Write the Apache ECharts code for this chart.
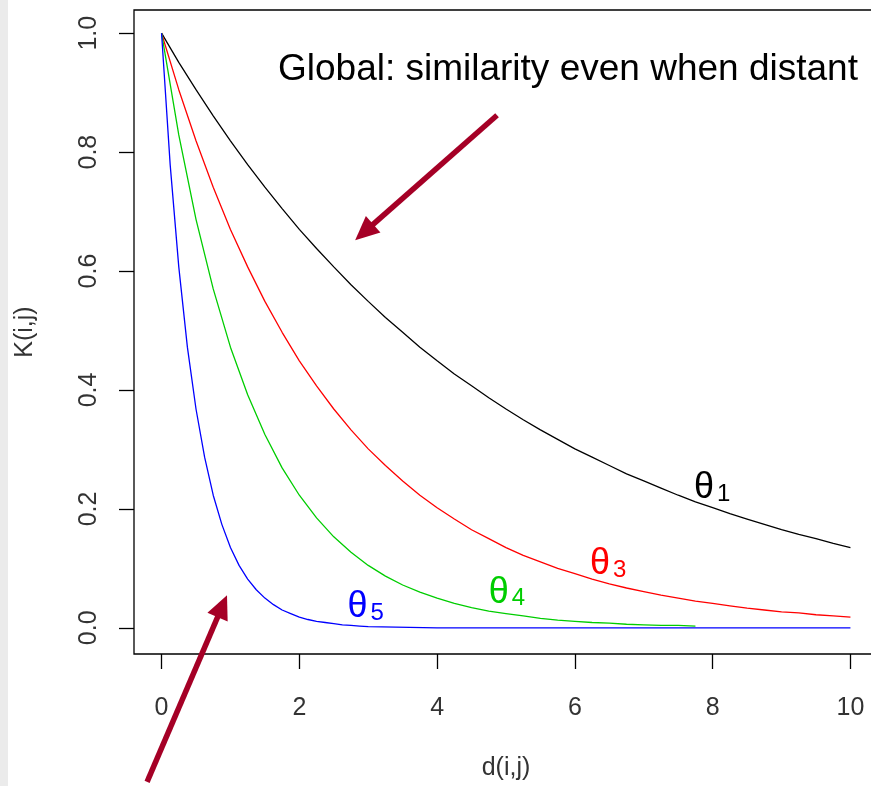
<!DOCTYPE html>
<html>
<head>
<meta charset="utf-8">
<script src="https://cdn.jsdelivr.net/npm/echarts@6/dist/echarts.min.js"></script>
<style>
html,body{margin:0;padding:0;background:#fff;}
#strip{position:absolute;left:0;top:0;width:8px;height:786px;background:#ebebeb;}
#c{position:absolute;left:0;top:0;width:871px;height:786px;}
</style>
</head>
<body>
<div id="strip"></div>
<div id="c"></div>
<script>
// distance values (shared for black, red, green)
const d = [0,0.25,0.5,0.75,1,1.25,1.5,1.75,2,2.25,2.5,2.75,3,3.25,3.5,3.75,4,4.25,4.5,4.75,5,5.25,5.5,5.75,6,6.25,6.5,6.75,7,7.25,7.5,7.75,8,8.25,8.5,8.75,9,9.25,9.5,9.75,10];
const theta1 = [1.000,0.951,0.905,0.861,0.819,0.779,0.741,0.705,0.670,0.638,0.607,0.577,0.549,0.522,0.497,0.472,0.449,0.427,0.407,0.387,0.368,0.350,0.333,0.317,0.301,0.287,0.273,0.259,0.247,0.235,0.223,0.212,0.202,0.192,0.183,0.174,0.165,0.157,0.150,0.142,0.135];
const theta3 = [1.000,0.905,0.819,0.741,0.670,0.607,0.549,0.497,0.449,0.407,0.368,0.333,0.301,0.273,0.247,0.223,0.202,0.183,0.165,0.150,0.135,0.122,0.111,0.100,0.091,0.082,0.074,0.067,0.061,0.055,0.050,0.045,0.041,0.037,0.033,0.030,0.027,0.025,0.022,0.020,0.018];
const theta4 = [1.000,0.829,0.687,0.570,0.472,0.392,0.325,0.269,0.223,0.185,0.153,0.127,0.105,0.087,0.072,0.060,0.050,0.041,0.034,0.028,0.024,0.020,0.016,0.013,0.011,0.009,0.008,0.006,0.005,0.004,0.004,0.003];
// finer distances for the steep blue curve
const dBlue = [0,0.125,0.25,0.375,0.5,0.625,0.75,0.875,1,1.125,1.25,1.375,1.5,1.625,1.75,1.875,2,2.125,2.25,2.375,2.5,2.625,2.75,2.875,3,4,6,8,10];
const theta5 = [1.000,0.779,0.607,0.472,0.368,0.287,0.223,0.174,0.135,0.105,0.082,0.064,0.050,0.039,0.030,0.024,0.018,0.014,0.011,0.009,0.007,0.005,0.004,0.003,0.002,0.000,0.000,0.000,0.000];

const xTicks = [0,2,4,6,8,10];
const yTicks = [0,0.2,0.4,0.6,0.8,1.0];
const yTickLabels = ['0.0','0.2','0.4','0.6','0.8','1.0'];

// annotation positions in data coordinates
const arrowGlobal = [[4.87,0.862],[2.81,0.652]];
const arrowLocal = [[-0.21,-0.259],[0.95,0.055]];
const thetaLabels = [
  {text:'1', x:7.73, y:0.240, color:'#000000'},
  {text:'3', x:6.22, y:0.112, color:'#ff0000'},
  {text:'4', x:4.75, y:0.064, color:'#00cd00'},
  {text:'5', x:2.70, y:0.040, color:'#0000ff'}
];
const globalText = 'Global: similarity even when distant';

const pairs = (xs, ys) => ys.map((v,i)=>[xs[i], v]);

const chart = echarts.init(document.getElementById('c'), null, {renderer:'canvas'});
const font = 'Liberation Sans, Arial, sans-serif';
const lineSeries = (name, xs, ys, color) => ({
  name, type:'line', data: pairs(xs, ys), showSymbol:false, symbol:'none',
  smooth:false,
  lineStyle:{color, width:1.3}, itemStyle:{color}, silent:true, z:3
});

chart.setOption({
  animation:false,
  backgroundColor:'transparent',
  grid:{left:134, top:10, width:744, height:644, outerBoundsMode:'none', containLabel:false,
        show:true, borderColor:'#000', borderWidth:1.3, backgroundColor:'#fff'},
  xAxis:{
    type:'value', min:-0.4, max:10.4,
    name:'d(i,j)', nameLocation:'middle', nameGap:102,
    nameTextStyle:{fontFamily:font, fontSize:25, color:'#333'},
    axisLine:{show:false, onZero:false},
    splitLine:{show:false},
    axisTick:{show:true, length:15, inside:false, customValues:xTicks, lineStyle:{color:'#000', width:1.3}},
    axisLabel:{customValues:xTicks, margin:42, fontFamily:font, fontSize:25, color:'#333'}
  },
  yAxis:{
    type:'value', min:-0.044, max:1.039,
    name:'K(i,j)', nameLocation:'middle', nameGap:96, nameRotate:90,
    nameTextStyle:{fontFamily:font, fontSize:25, color:'#333'},
    axisLine:{show:false, onZero:false},
    splitLine:{show:false},
    axisTick:{show:true, length:15, inside:false, customValues:yTicks, lineStyle:{color:'#000', width:1.3}},
    axisLabel:{customValues:yTicks, rotate:90, margin:32, fontFamily:font, fontSize:25, color:'#333',
      formatter:(v)=>{const i=yTicks.findIndex(t=>Math.abs(t-v)<1e-9); return i>=0?yTickLabels[i]:'';}}
  },
  series:[
    lineSeries('theta1', d, theta1, '#000000'),
    lineSeries('theta3', d, theta3, '#ff0000'),
    lineSeries('theta4', d, theta4, '#00cd00'),
    lineSeries('theta5', dBlue, theta5, '#0000ff')
  ]
});

function arrow(p0, p1, color, w, headLen, headW){
  const a = chart.convertToPixel({gridIndex:0}, p0);
  const b = chart.convertToPixel({gridIndex:0}, p1);
  const dx=b[0]-a[0], dy=b[1]-a[1], L=Math.hypot(dx,dy), ux=dx/L, uy=dy/L;
  const bx=b[0]-ux*headLen, by=b[1]-uy*headLen;
  const nx=-uy, ny=ux;
  return [
    {type:'line', shape:{x1:a[0], y1:a[1], x2:bx+ux*2, y2:by+uy*2}, style:{stroke:color, lineWidth:w}, z:10},
    {type:'polygon', shape:{points:[[b[0],b[1]],[bx+nx*headW/2,by+ny*headW/2],[bx-nx*headW/2,by-ny*headW/2]]}, style:{fill:color}, z:10}
  ];
}

const graphics = [];
graphics.push(...arrow(arrowGlobal[0], arrowGlobal[1], '#a50026', 5.5, 24, 22));
graphics.push(...arrow(arrowLocal[0], arrowLocal[1], '#a50026', 5.5, 24, 22));
const gp = chart.convertToPixel({gridIndex:0}, [1.69, 0.938]);
graphics.push({type:'text', x:gp[0], y:gp[1], z:10, style:{text:globalText, fontFamily:font, fontSize:37, fill:'#000', align:'left', verticalAlign:'middle'}});
thetaLabels.forEach(t=>{
  const p = chart.convertToPixel({gridIndex:0}, [t.x, t.y]);
  graphics.push({type:'text', x:p[0], y:p[1], z:10, style:{
    text:'{a|θ}{b|'+t.text+'}', align:'left', verticalAlign:'middle',
    rich:{a:{fontFamily:font, fontSize:36, fill:t.color, color:t.color, verticalAlign:'bottom'},
          b:{fontFamily:font, fontSize:24, fill:t.color, color:t.color, padding:[18,0,0,3], verticalAlign:'bottom'}}
  }});
});
chart.setOption({graphic:graphics});
</script>
</body>
</html>
